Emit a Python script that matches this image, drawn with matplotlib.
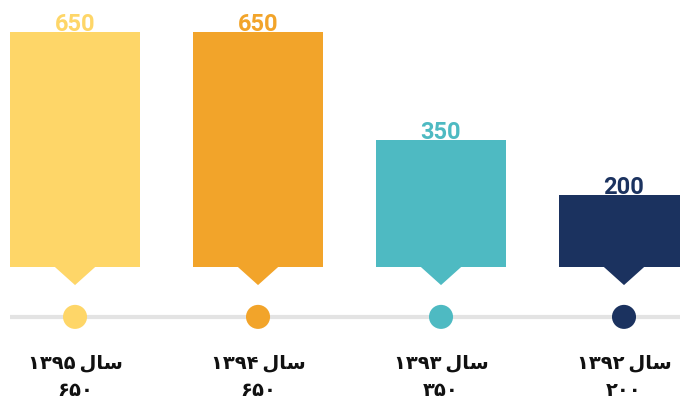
import matplotlib
matplotlib.use('Agg')
import matplotlib.pyplot as plt

# data (right-to-left chart, leftmost = latest year)
years = ['۱۳۹۵', '۱۳۹۴', '۱۳۹۳', '۱۳۹۲']
values = [650, 650, 350, 200]
colors = ['#FED668', '#F2A42A', '#4EBAC2', '#1B325F']

fa_digits = str.maketrans('0123456789', '۰۱۲۳۴۵۶۷۸۹')
sal = '\uFEDD\uFE8E\uFEB3'  # "سال" shaped, visual order

fig = plt.figure(figsize=(6.8, 4.02), dpi=100)
ax = fig.add_axes([0, 0, 1, 1])
ax.set_xlim(-0.41, 3.306)
ax.set_ylim(-370.7, 741.4)
ax.axis('off')

x = list(range(len(values)))
ax.bar(x, values, width=0.71, color=colors, zorder=2)

# pointers under bars
for xi, c in zip(x, colors):
    ax.fill([xi - 0.11, xi + 0.11, xi], [0, 0, -50], color=c, lw=0, zorder=2)

# timeline
ax.plot([-0.355, 3.306], [-138, -138], color='#E3E3E3', lw=3, zorder=1, solid_capstyle='butt')
ax.scatter(x, [-138] * len(x), s=300, c=colors, zorder=3, linewidths=0)

for xi, v, y, c in zip(x, values, years, colors):
    ax.text(xi, v - 8, str(v), color=c, ha='center', va='bottom',
            fontsize=17, fontweight='bold', family='Roboto', zorder=4)
    ax.text(xi, -262, y + '\u2009' + sal, ha='center', va='center',
            fontsize=14, fontweight='bold', family='DejaVu Sans', color='#111111')
    ax.text(xi, -340, str(v).translate(fa_digits), ha='center', va='center',
            fontsize=14, fontweight='bold', family='DejaVu Sans', color='#111111')

fig.savefig('out.png', dpi=100)
